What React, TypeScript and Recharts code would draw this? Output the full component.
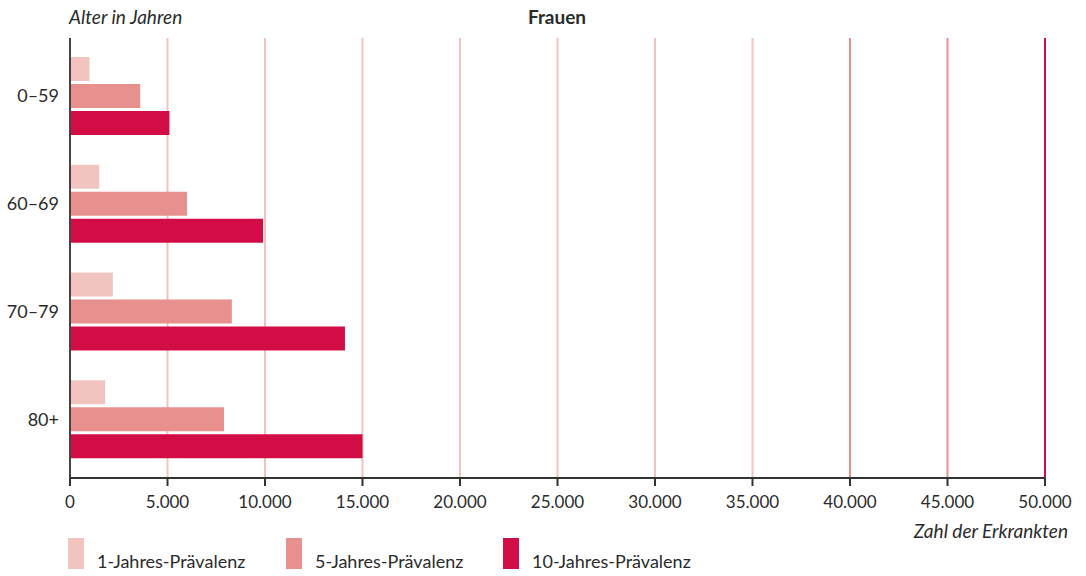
import { Bar, BarChart, CartesianGrid, XAxis, YAxis } from "recharts";

const ageGroups = ["0–59", "60–69", "70–79", "80+"];
const oneYear = [1000, 1500, 2200, 1800];
const fiveYear = [3600, 6000, 8300, 7900];
const tenYear = [5100, 9900, 14100, 15000];
const xTicks = [0, 5000, 10000, 15000, 20000, 25000, 30000, 35000, 40000, 45000, 50000];

const seriesColors = ["#f2c4c0", "#e8908e", "#d20d45"];
const seriesNames = ["1-Jahres-Prävalenz", "5-Jahres-Prävalenz", "10-Jahres-Prävalenz"];

const data = ageGroups.map((label, i) => ({
  label,
  oneYear: oneYear[i],
  fiveYear: fiveYear[i],
  tenYear: tenYear[i],
}));

// grid lines get darker towards the right edge
function gridColor(value: number) {
  if (value >= 50000) return "#d20d45";
  if (value >= 40000) return "#e8908e";
  return "#f2c4c0";
}

const font = "Lato, 'Open Sans', sans-serif";
const textColor = "#2b2b2b";

const formatTick = (v: number) => v.toLocaleString("de-DE");

function GridLine(props: any) {
  const { x1, x2, y1, y2, index } = props;
  const value = xTicks[index] ?? 0;
  if (value === 0) return <g />;
  return <line x1={x1} x2={x2} y1={y1} y2={y2} stroke={gridColor(value)} strokeWidth={2} />;
}

export default function App() {
  return (
    <div
      style={{
        position: "absolute",
        left: 0,
        top: 0,
        width: 1086,
        height: 576,
        background: "#fff",
        fontFamily: font,
        color: textColor,
      }}
    >
      <BarChart
        width={1086}
        height={576}
        data={data}
        layout="vertical"
        margin={{ top: 38, right: 41, bottom: 68, left: 0 }}
        barSize={24}
        barGap={3}
      >
        <CartesianGrid horizontal={false} vertical={GridLine} />
        <XAxis
          type="number"
          domain={[0, 50000]}
          ticks={xTicks}
          tickFormatter={formatTick}
          height={30}
          stroke="#333"
          strokeWidth={2}
          tickSize={8}
          tick={{ fill: textColor, fontSize: 17, fontFamily: font, dy: 8 }}
          interval={0}
        />
        <YAxis
          type="category"
          dataKey="label"
          width={70}
          padding={{ top: 4, bottom: 5 }}
          stroke="#444"
          strokeWidth={2}
          tickLine={false}
          tickMargin={5}
          tick={{ fill: textColor, fontSize: 18, fontFamily: font }}
        />
        <Bar dataKey="oneYear" fill={seriesColors[0]} isAnimationActive={false} />
        <Bar dataKey="fiveYear" fill={seriesColors[1]} isAnimationActive={false} />
        <Bar dataKey="tenYear" fill={seriesColors[2]} isAnimationActive={false} />
      </BarChart>

      <div style={{ position: "absolute", left: 69, top: 5, fontSize: 19, fontStyle: "italic" }}>
        Alter in Jahren
      </div>
      <div
        style={{
          position: "absolute",
          left: 457,
          width: 200,
          top: 5,
          textAlign: "center",
          fontSize: 19,
          fontWeight: 700,
        }}
      >
        Frauen
      </div>
      <div
        style={{
          position: "absolute",
          right: 18,
          top: 519,
          fontSize: 19,
          fontStyle: "italic",
        }}
      >
        Zahl der Erkrankten
      </div>

      {seriesNames.map((name, i) => (
        <div
          key={name}
          style={{
            position: "absolute",
            left: [68, 286, 503][i],
            top: 538,
            display: "flex",
            alignItems: "flex-end",
            gap: 13,
          }}
        >
          <span style={{ width: 16, height: 31, background: seriesColors[i], display: "block" }} />
          <span style={{ fontSize: 18, lineHeight: "20px", marginBottom: -2 }}>{name}</span>
        </div>
      ))}
    </div>
  );
}
